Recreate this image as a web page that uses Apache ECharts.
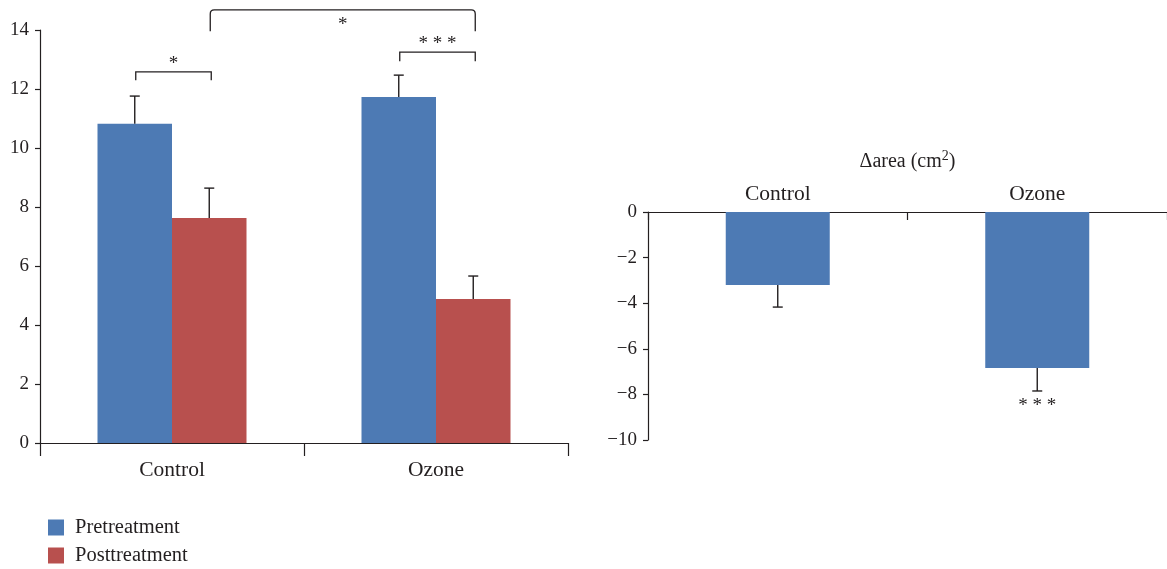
<!DOCTYPE html>
<html><head><meta charset="utf-8">
<script src="https://cdn.jsdelivr.net/npm/echarts@6/dist/echarts.min.js"></script>
<style>html,body{margin:0;padding:0;background:#fff}#c{width:1167px;height:569px}</style>
</head><body><div id="c"></div>
<script>
// ---- data ----
const categories = ['Control', 'Ozone'];
const seriesNames = ['Pretreatment', 'Posttreatment'];
const preValues = [10.82, 11.73];
const preErrors = [0.94, 0.74];
const postValues = [7.63, 4.88];
const postErrors = [1.01, 0.78];
const deltaValues = [-3.2, -6.84];
const deltaErrors = [0.97, 1.01];
const leftTicks = [0, 2, 4, 6, 8, 10, 12, 14];
const rightTicks = [-10, -8, -6, -4, -2, 0];
// brackets: [categoryA, seriesA, categoryB, seriesB]
const bracketEnds = [[0, 0, 0, 1], [1, 0, 1, 1], [0, 1, 1, 1]];
const bracketLevels = [12.58, 13.25, 14.68];
const bracketLegs = [0.28, 0.31, 0.72];
const bracketLabels = ['*', '* * *', '*'];
const deltaMarks = ['', '* * *'];

// ---- style ----
const FONT = 'Liberation Serif';
const INK = '#231f20';
const BLUE = '#4d7ab4';
const RED = '#b8504e';
const BAR_W_LEFT = 74.5;
const BAR_W_RIGHT = 104;

const chart = echarts.init(document.getElementById('c'), null, {renderer: 'canvas'});

function errorRender(values, errors, offset, dir, capHalf) {
  return function (params, api) {
    const i = params.dataIndex;
    const p0 = api.coord([i, values[i]]);
    const p1 = api.coord([i, values[i] + dir * errors[i]]);
    const x = p0[0] + offset;
    return {
      type: 'group',
      children: [
        {type: 'line', shape: {x1: x, y1: p0[1], x2: x, y2: p1[1]}, style: {stroke: INK, lineWidth: 1.4}},
        {type: 'line', shape: {x1: x - capHalf, y1: p1[1], x2: x + capHalf, y2: p1[1]}, style: {stroke: INK, lineWidth: 1.4}}
      ]
    };
  };
}

function bracketRender(params, api) {
  const k = params.dataIndex;
  const e = bracketEnds[k];
  const lvl = bracketLevels[k];
  const off = s => (s === 0 ? -BAR_W_LEFT / 2 : BAR_W_LEFT / 2);
  const a = api.coord([e[0], lvl]);
  const b = api.coord([e[2], lvl]);
  const legY = api.coord([e[0], lvl - bracketLegs[k]])[1];
  const xa = a[0] + off(e[1]) + 1;
  const xb = b[0] + off(e[3]) + 2;
  const y = a[1];
  let path;
  if (k === 2) {
    const r = 4;
    path = `M${xa},${legY} L${xa},${y + r} Q${xa},${y} ${xa + r},${y} L${xb - r},${y} Q${xb},${y} ${xb},${y + r} L${xb},${legY}`;
  } else {
    path = `M${xa},${legY} L${xa},${y} L${xb},${y} L${xb},${legY}`;
  }
  const labelY = k === 2 ? y + 15 : y - 8;
  return {
    type: 'group',
    children: [
      {type: 'path', shape: {pathData: path}, style: {stroke: INK, lineWidth: 1.3, fill: null}},
      {type: 'text', x: (xa + xb) / 2, y: labelY,
       style: {text: bracketLabels[k], font: `19px "${FONT}"`, fill: INK, align: 'center', verticalAlign: 'middle'}}
    ]
  };
}

function markRender(params, api) {
  const i = params.dataIndex;
  const p = api.coord([i, deltaValues[i] - deltaErrors[i]]);
  return {type: 'text', x: p[0], y: p[1] + 15,
    style: {text: deltaMarks[i], font: `19px "${FONT}"`, fill: INK, align: 'center', verticalAlign: 'middle'}};
}

const axisLineStyle = {show: true, lineStyle: {color: INK, width: 1.2}};
const minus = v => String(v).replace('-', '\u2212');
const legendBase = {
  orient: 'vertical', left: 48, padding: 0, itemWidth: 16, itemHeight: 16, icon: 'rect',
  textStyle: {fontFamily: FONT, fontSize: 20.5, color: INK, padding: [0, 0, 0, 6]}
};

const option = {
  animation: false,
  textStyle: {fontFamily: FONT, color: INK},
  legend: [
    Object.assign({}, legendBase, {top: 517, data: [seriesNames[0]]}),
    Object.assign({}, legendBase, {top: 545, data: [seriesNames[1]]})
  ],
  grid: [
    {left: 40, top: 30, width: 528, height: 413},
    {left: 648, top: 212, width: 520, height: 228}
  ],
  xAxis: [
    {type: 'category', gridIndex: 0, data: categories,
     axisLine: axisLineStyle, axisTick: {show: true, length: 13, lineStyle: {color: INK, width: 1.2}},
     axisLabel: {fontFamily: FONT, fontSize: 21.5, color: INK, margin: 16}},
    {type: 'category', gridIndex: 1, data: categories, position: 'top',
     axisLine: axisLineStyle, axisTick: {show: true, inside: true, length: 8, lineStyle: {color: INK, width: 1.2}},
     axisLabel: {fontFamily: FONT, fontSize: 21.5, color: INK, margin: 7},
     name: '{a|\u0394area (cm}{s|2}{a|)}', nameLocation: 'middle', nameGap: 37,
     nameTextStyle: {rich: {
       a: {fontFamily: FONT, fontSize: 20, color: INK},
       s: {fontFamily: FONT, fontSize: 14, color: INK, padding: [0, 0, 12, 0]}
     }}}
  ],
  yAxis: [
    {type: 'value', gridIndex: 0, min: leftTicks[0], max: leftTicks[leftTicks.length - 1], interval: 2,
     axisLine: axisLineStyle, axisTick: {show: true, length: 5, lineStyle: {color: INK, width: 1.2}},
     splitLine: {show: false},
     axisLabel: {fontFamily: FONT, fontSize: 19, color: INK, margin: 11}},
    {type: 'value', gridIndex: 1, min: rightTicks[0], max: rightTicks[rightTicks.length - 1], interval: 2,
     axisLine: axisLineStyle, axisTick: {show: true, length: 5, lineStyle: {color: INK, width: 1.2}},
     splitLine: {show: false},
     axisLabel: {fontFamily: FONT, fontSize: 19, color: INK, margin: 11, formatter: minus}}
  ],
  series: [
    {name: seriesNames[0], type: 'bar', xAxisIndex: 0, yAxisIndex: 0, data: preValues,
     barWidth: BAR_W_LEFT, barGap: '0%', itemStyle: {color: BLUE}, z: 2},
    {name: seriesNames[1], type: 'bar', xAxisIndex: 0, yAxisIndex: 0, data: postValues,
     barWidth: BAR_W_LEFT, barGap: '0%', itemStyle: {color: RED}, z: 2},
    {type: 'custom', xAxisIndex: 0, yAxisIndex: 0, data: preValues.map((v, i) => [i, v]),
     renderItem: errorRender(preValues, preErrors, -BAR_W_LEFT / 2, 1, 5), z: 3, silent: true},
    {type: 'custom', xAxisIndex: 0, yAxisIndex: 0, data: postValues.map((v, i) => [i, v]),
     renderItem: errorRender(postValues, postErrors, BAR_W_LEFT / 2, 1, 5), z: 3, silent: true},
    {type: 'custom', xAxisIndex: 0, yAxisIndex: 0, data: bracketLevels.map((v, i) => [bracketEnds[i][0], v]),
     renderItem: bracketRender, clip: false, z: 3, silent: true},
    {name: 'delta', type: 'bar', xAxisIndex: 1, yAxisIndex: 1, data: deltaValues,
     barWidth: BAR_W_RIGHT, itemStyle: {color: BLUE}, z: 2},
    {type: 'custom', xAxisIndex: 1, yAxisIndex: 1, data: deltaValues.map((v, i) => [i, v]),
     renderItem: errorRender(deltaValues, deltaErrors, 0, -1, 5), z: 3, silent: true},
    {type: 'custom', xAxisIndex: 1, yAxisIndex: 1, data: deltaValues.map((v, i) => [i, v]),
     renderItem: markRender, clip: false, z: 3, silent: true}
  ]
};
chart.setOption(option);
</script>
</body></html>
